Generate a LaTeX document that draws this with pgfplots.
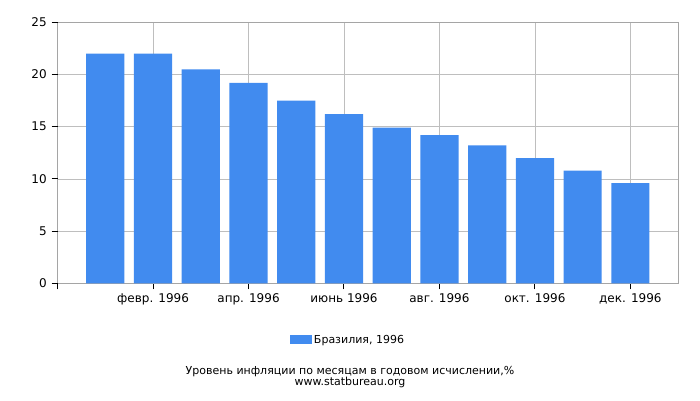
\documentclass[border=0pt]{standalone}
\usepackage{fontspec}
\setmainfont{DejaVu Sans}
\usepackage{pgfplots}
\pgfplotsset{compat=1.18}
\definecolor{barblue}{RGB}{65,139,239}
\definecolor{gridgray}{RGB}{190,190,190}
\definecolor{framegray}{RGB}{165,165,165}
\begin{document}
\fontsize{11}{13}\selectfont
\begin{tikzpicture}
\path[use as bounding box] (-57.6pt,-116.7pt) rectangle (642.4pt,283.3pt);
\begin{axis}[
  at={(0pt,0pt)}, anchor=south west,
  scale only axis, width=620.5pt, height=261pt,
  xmin=0, xmax=13, ymin=0, ymax=25,
  clip=false,
  ytick={0,5,...,25},
  xtick={0,2,...,12},
  xticklabels={,февр. 1996,апр. 1996,июнь 1996,авг. 1996,окт. 1996,дек. 1996},
  grid=major, grid style={gridgray, line width=0.8pt},
  axis line style={framegray, line width=0.8pt},
  tick align=outside, xtick pos=bottom, ytick pos=left,
  major tick length=6pt,
  x tick style={black, line width=1pt},
  y tick style={black, line width=1pt},
  /pgf/number format/assume math mode=true,
  ticklabel style={font=\fontsize{12}{14}\selectfont},
  yticklabel style={xshift=-1pt},
  ybar, bar width=0.8,
  legend style={at={(0.468,-0.217)}, anchor=center, draw=none, fill=none,
    font=\fontsize{11}{13}\selectfont},
  legend image code/.code={\fill[barblue] (0pt,-4pt) rectangle (22pt,5pt);},
]
\addplot[fill=barblue, draw=none] coordinates {
  (1,22.0) (2,22.0) (3,20.5) (4,19.2) (5,17.5) (6,16.2)
  (7,14.9) (8,14.2) (9,13.2) (10,12.0) (11,10.8) (12,9.6)
};
\addlegendentry{Бразилия, 1996}
% tick marks on the y axis
\draw[black, line width=1pt] (axis cs:0,0) -- ++(-6pt,0pt);
\draw[black, line width=1pt] (axis cs:0,5) -- ++(-6pt,0pt);
\draw[black, line width=1pt] (axis cs:0,10) -- ++(-6pt,0pt);
\draw[black, line width=1pt] (axis cs:0,15) -- ++(-6pt,0pt);
\draw[black, line width=1pt] (axis cs:0,20) -- ++(-6pt,0pt);
\draw[black, line width=1pt] (axis cs:0,25) -- ++(-6pt,0pt);
\end{axis}
\node[anchor=base, font=\fontsize{11}{13}\selectfont] at (292.4pt,-90.7pt) {Уровень инфляции по месяцам в годовом исчислении,\%};
\node[anchor=base, font=\fontsize{11}{13}\selectfont] at (292.4pt,-102pt) {www.statbureau.org};
\end{tikzpicture}
\end{document}
